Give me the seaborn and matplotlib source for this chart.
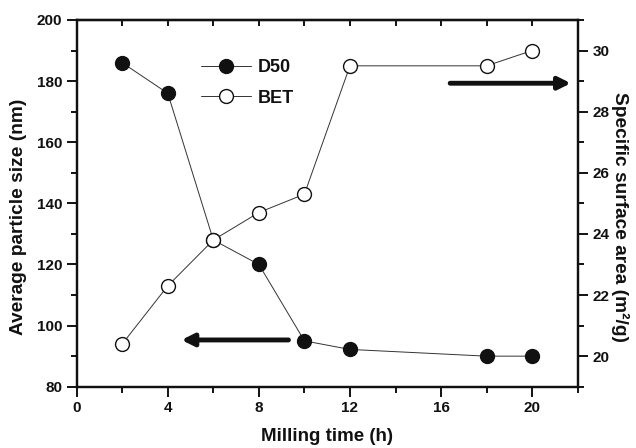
import seaborn as sns
import matplotlib.pyplot as plt
import pandas as pd
from matplotlib.ticker import MultipleLocator

# data
time_h = [2, 4, 6, 8, 10, 12, 18, 20]
d50 = [186, 176, 128, 120, 95, 92.2, 90, 90]
bet = [20.4, 22.3, 23.8, 24.7, 25.3, 29.5, 29.5, 30.0]

# arrows pointing to the axis each series belongs to
left_arrow = [(9.3, 95.3), (4.6, 95.3)]
right_arrow = [(16.4, 28.93), (21.7, 28.93)]

df = pd.DataFrame({'time': time_h, 'D50': d50, 'BET': bet})

sns.set_style('ticks')
plt.rcParams['font.family'] = ['Liberation Sans', 'DejaVu Sans']
plt.rcParams['font.weight'] = 'bold'
plt.rcParams['axes.labelweight'] = 'bold'
plt.rcParams['axes.linewidth'] = 1.6
plt.rcParams['text.color'] = '#111111'
plt.rcParams['axes.labelcolor'] = '#111111'

fig = plt.figure(figsize=(6.36, 4.48), dpi=100)
ax = fig.add_axes([0.1206, 0.1368, 0.7877, 0.8186])
ax2 = ax.twinx()

sns.lineplot(data=df, x='time', y='D50', ax=ax, color='#333333', lw=0.7,
             marker='o', markersize=10, markerfacecolor='#111111',
             markeredgecolor='#111111', markeredgewidth=1, label='D50', legend=False)
sns.lineplot(data=df, x='time', y='BET', ax=ax2, color='#333333', lw=0.7,
             marker='o', markersize=10, markerfacecolor='white',
             markeredgecolor='#111111', markeredgewidth=1, label='BET', legend=False)

ax.set_xlim(0, 22)
ax.set_ylim(80, 200)
ax2.set_ylim(19, 31)

ax.xaxis.set_major_locator(MultipleLocator(4))
ax.xaxis.set_minor_locator(MultipleLocator(2))
ax.yaxis.set_major_locator(MultipleLocator(20))
ax.yaxis.set_minor_locator(MultipleLocator(10))
ax2.yaxis.set_major_locator(MultipleLocator(2))
ax2.yaxis.set_minor_locator(MultipleLocator(1))

for a in (ax, ax2):
    for s in a.spines.values():
        s.set_visible(True)
        s.set_linewidth(1.6)
        s.set_color('#111111')
    a.tick_params(which='major', length=7, width=1.4, labelsize=11, colors='#111111')
    a.tick_params(which='minor', length=4, width=1.4, colors='#111111')

ax2.tick_params(axis='y', which='both', right=True)

# top spine ticks point inward, no labels
ax_top = ax.secondary_xaxis('top')
ax_top.xaxis.set_major_locator(MultipleLocator(2))
ax_top.tick_params(direction='in', length=4, width=1.4, labeltop=False, colors='#111111')
ax.tick_params(axis='x', which='both', top=False)

ax.set_xlabel('Milling time (h)', fontsize=13.5, labelpad=9)
ax.set_ylabel('Average particle size (nm)', fontsize=13.8, va='center')
ax2.set_ylabel('Specific surface area (m²/g)', fontsize=13.8, rotation=270, va='center')
ax.yaxis.set_label_coords(-0.117, 0.463)
ax2.yaxis.set_label_coords(1.084, 0.463)

arrow_style = dict(arrowstyle='-|>', lw=3.5, color='#111111', mutation_scale=18,
                   shrinkA=0, shrinkB=0)
ax.annotate('', xy=left_arrow[1], xytext=left_arrow[0], arrowprops=arrow_style)
ax2.annotate('', xy=right_arrow[1], xytext=right_arrow[0], arrowprops=arrow_style)

h1, l1 = ax.get_legend_handles_labels()
h2, l2 = ax2.get_legend_handles_labels()
ax2.legend(h1 + h2, l1 + l2, loc='upper left', bbox_to_anchor=(0.248, 0.893),
           frameon=False, fontsize=13, handlelength=2.8, handletextpad=0.35,
           labelspacing=0.75, borderpad=0, borderaxespad=0)

fig.savefig('out.png', dpi=100)
